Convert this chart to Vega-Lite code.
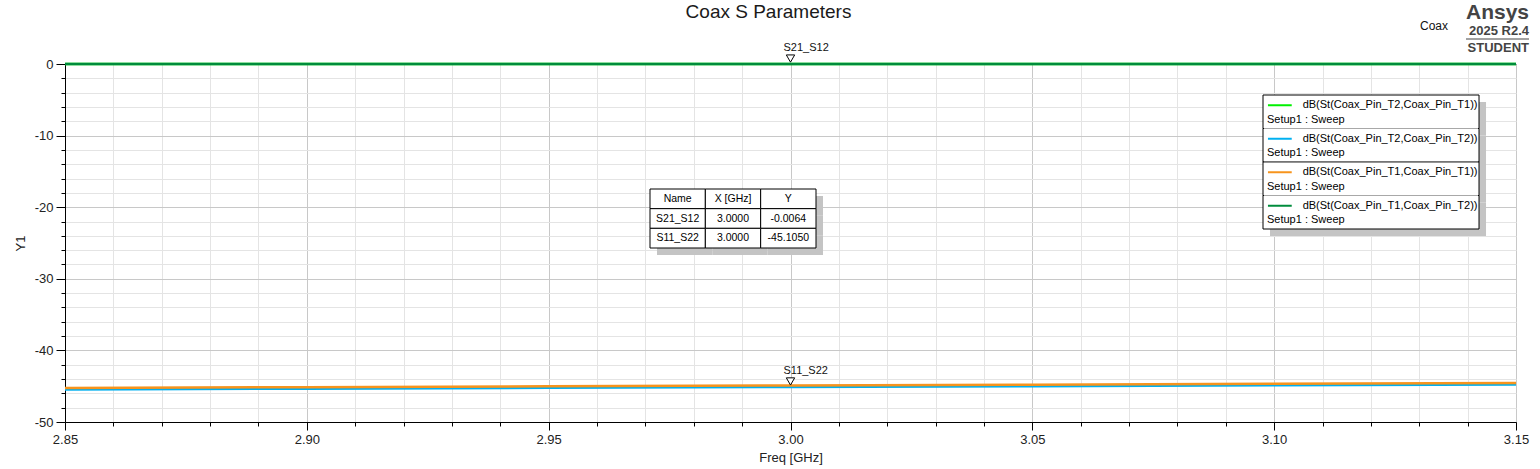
{
  "$schema": "https://vega.github.io/schema/vega-lite/v6.json",
  "width": 1451,
  "height": 358,
  "autosize": "none",
  "padding": {"left": 65, "top": 64, "right": 24, "bottom": 47},
  "background": "white",
  "config": {
    "font": "Liberation Sans",
    "view": {"stroke": "#000", "strokeWidth": 1},
    "axis": {
      "labelFont": "Liberation Sans",
      "labelFontSize": 13,
      "labelColor": "#222",
      "titleFont": "Liberation Sans",
      "titleFontSize": 13,
      "titleFontWeight": "normal",
      "titleColor": "#222",
      "tickColor": "#000",
      "domainColor": "#000",
      "labelFlush": false,
      "labelOverlap": false
    }
  },
  "title": {
    "text": "Coax S Parameters",
    "font": "Liberation Sans",
    "fontSize": 19,
    "fontWeight": "normal",
    "color": "#1a1a1a",
    "anchor": "middle",
    "dx": -22,
    "offset": -20
  },
  "datasets": {
    "traces": [
      {"trace": "dB(St(Coax_Pin_T2,Coax_Pin_T1))", "freq": 2.85, "dB": -0.0061},
      {"trace": "dB(St(Coax_Pin_T2,Coax_Pin_T1))", "freq": 2.9, "dB": -0.0062},
      {"trace": "dB(St(Coax_Pin_T2,Coax_Pin_T1))", "freq": 2.95, "dB": -0.0063},
      {"trace": "dB(St(Coax_Pin_T2,Coax_Pin_T1))", "freq": 3.0, "dB": -0.0064},
      {"trace": "dB(St(Coax_Pin_T2,Coax_Pin_T1))", "freq": 3.05, "dB": -0.0065},
      {"trace": "dB(St(Coax_Pin_T2,Coax_Pin_T1))", "freq": 3.1, "dB": -0.0066},
      {"trace": "dB(St(Coax_Pin_T2,Coax_Pin_T1))", "freq": 3.15, "dB": -0.0067},
      {"trace": "dB(St(Coax_Pin_T2,Coax_Pin_T2))", "freq": 2.85, "dB": -45.45},
      {"trace": "dB(St(Coax_Pin_T2,Coax_Pin_T2))", "freq": 2.9, "dB": -45.34},
      {"trace": "dB(St(Coax_Pin_T2,Coax_Pin_T2))", "freq": 2.95, "dB": -45.22},
      {"trace": "dB(St(Coax_Pin_T2,Coax_Pin_T2))", "freq": 3.0, "dB": -45.105},
      {"trace": "dB(St(Coax_Pin_T2,Coax_Pin_T2))", "freq": 3.05, "dB": -44.99},
      {"trace": "dB(St(Coax_Pin_T2,Coax_Pin_T2))", "freq": 3.1, "dB": -44.88},
      {"trace": "dB(St(Coax_Pin_T2,Coax_Pin_T2))", "freq": 3.15, "dB": -44.76},
      {"trace": "dB(St(Coax_Pin_T1,Coax_Pin_T1))", "freq": 2.85, "dB": -45.24},
      {"trace": "dB(St(Coax_Pin_T1,Coax_Pin_T1))", "freq": 2.9, "dB": -45.13},
      {"trace": "dB(St(Coax_Pin_T1,Coax_Pin_T1))", "freq": 2.95, "dB": -45.01},
      {"trace": "dB(St(Coax_Pin_T1,Coax_Pin_T1))", "freq": 3.0, "dB": -44.9},
      {"trace": "dB(St(Coax_Pin_T1,Coax_Pin_T1))", "freq": 3.05, "dB": -44.79},
      {"trace": "dB(St(Coax_Pin_T1,Coax_Pin_T1))", "freq": 3.1, "dB": -44.67},
      {"trace": "dB(St(Coax_Pin_T1,Coax_Pin_T1))", "freq": 3.15, "dB": -44.56},
      {"trace": "dB(St(Coax_Pin_T1,Coax_Pin_T2))", "freq": 2.85, "dB": -0.0061},
      {"trace": "dB(St(Coax_Pin_T1,Coax_Pin_T2))", "freq": 2.9, "dB": -0.0062},
      {"trace": "dB(St(Coax_Pin_T1,Coax_Pin_T2))", "freq": 2.95, "dB": -0.0063},
      {"trace": "dB(St(Coax_Pin_T1,Coax_Pin_T2))", "freq": 3.0, "dB": -0.0064},
      {"trace": "dB(St(Coax_Pin_T1,Coax_Pin_T2))", "freq": 3.05, "dB": -0.0065},
      {"trace": "dB(St(Coax_Pin_T1,Coax_Pin_T2))", "freq": 3.1, "dB": -0.0066},
      {"trace": "dB(St(Coax_Pin_T1,Coax_Pin_T2))", "freq": 3.15, "dB": -0.0067}
    ],
    "markers": [
      {"name": "S21_S12", "freq": 3.0, "dB": -0.0064},
      {"name": "S11_S22", "freq": 3.0, "dB": -45.105}
    ],
    "table": [
      {"row": 0, "col": "Name", "text": "Name"},
      {"row": 0, "col": "X [GHz]", "text": "X [GHz]"},
      {"row": 0, "col": "Y", "text": "Y"},
      {"row": 1, "col": "Name", "text": "S21_S12"},
      {"row": 1, "col": "X [GHz]", "text": "3.0000"},
      {"row": 1, "col": "Y", "text": "-0.0064"},
      {"row": 2, "col": "Name", "text": "S11_S22"},
      {"row": 2, "col": "X [GHz]", "text": "3.0000"},
      {"row": 2, "col": "Y", "text": "-45.1050"}
    ],
    "legend": [
      {"trace": "dB(St(Coax_Pin_T2,Coax_Pin_T1))", "setup": "Setup1 : Sweep"},
      {"trace": "dB(St(Coax_Pin_T2,Coax_Pin_T2))", "setup": "Setup1 : Sweep"},
      {"trace": "dB(St(Coax_Pin_T1,Coax_Pin_T1))", "setup": "Setup1 : Sweep"},
      {"trace": "dB(St(Coax_Pin_T1,Coax_Pin_T2))", "setup": "Setup1 : Sweep"}
    ],
    "brand": [{"coax": "Coax", "logo": "Ansys", "release": "2025 R2.4", "edition": "STUDENT"}]
  },
  "layer": [
    {
      "resolve": {"axis": {"x": "independent", "y": "independent"}},
      "layer": [
        {
          "data": {"name": "traces"},
          "mark": {"type": "line", "clip": false},
          "encoding": {
            "x": {
              "field": "freq",
              "type": "quantitative",
              "scale": {"domain": [2.85, 3.15], "nice": false, "zero": false},
              "axis": {
                "orient": "bottom",
                "values": [2.86, 2.87, 2.88, 2.89, 2.91, 2.92, 2.93, 2.94, 2.96, 2.97, 2.98, 2.99, 3.01, 3.02, 3.03, 3.04, 3.06, 3.07, 3.08, 3.09, 3.11, 3.12, 3.13, 3.14],
                "labels": false,
                "domain": false,
                "tickSize": 4,
                "grid": true,
                "gridColor": "#e4e4e4",
                "title": null
              }
            },
            "y": {
              "field": "dB",
              "type": "quantitative",
              "scale": {"domain": [-50, 0], "nice": false, "zero": false},
              "axis": {
                "orient": "left",
                "values": [-48, -46, -44, -42, -38, -36, -34, -32, -28, -26, -24, -22, -18, -16, -14, -12, -8, -6, -4, -2],
                "labels": false,
                "domain": false,
                "tickSize": 4,
                "grid": true,
                "gridColor": "#e4e4e4",
                "title": null
              }
            },
            "color": {
              "field": "trace",
              "type": "nominal",
              "scale": {
                "domain": ["dB(St(Coax_Pin_T2,Coax_Pin_T1))", "dB(St(Coax_Pin_T2,Coax_Pin_T2))", "dB(St(Coax_Pin_T1,Coax_Pin_T1))", "dB(St(Coax_Pin_T1,Coax_Pin_T2))"],
                "range": ["#00f000", "#00b0f0", "#f7941d", "#008c3c"]
              },
              "legend": null
            },
            "strokeWidth": {
              "field": "trace",
              "type": "nominal",
              "scale": {
                "domain": ["dB(St(Coax_Pin_T2,Coax_Pin_T1))", "dB(St(Coax_Pin_T2,Coax_Pin_T2))", "dB(St(Coax_Pin_T1,Coax_Pin_T1))", "dB(St(Coax_Pin_T1,Coax_Pin_T2))"],
                "range": [2.5, 2.5, 4, 2.5]
              },
              "legend": null
            }
          }
        },
        {
          "data": {"name": "markers"},
          "mark": {"type": "point", "shape": "triangle-down", "filled": true, "fill": "white", "stroke": "#000", "strokeWidth": 1, "size": 70, "yOffset": -5.5, "opacity": 1},
          "encoding": {
            "x": {
              "field": "freq",
              "type": "quantitative",
              "scale": {"domain": [2.85, 3.15], "nice": false, "zero": false},
              "axis": {
                "orient": "bottom",
                "values": [2.85, 2.9, 2.95, 3.0, 3.05, 3.1, 3.15],
                "format": ".2f",
                "grid": true,
                "gridColor": "#c8c8c8",
                "tickSize": 8,
                "labelPadding": 3,
                "title": "Freq [GHz]",
                "titlePadding": 5
              }
            },
            "y": {
              "field": "dB",
              "type": "quantitative",
              "scale": {"domain": [-50, 0], "nice": false, "zero": false},
              "axis": {
                "orient": "left",
                "values": [-50, -40, -30, -20, -10, 0],
                "labelExpr": "'' + datum.value",
                "grid": true,
                "gridColor": "#c8c8c8",
                "tickSize": 9,
                "labelPadding": 3,
                "title": "Y1",
                "titlePadding": 7
              }
            }
          }
        },
        {
          "data": {"name": "markers"},
          "mark": {"type": "text", "fontSize": 11, "color": "#111", "align": "left", "dx": -7, "dy": -16},
          "encoding": {
            "x": {"field": "freq", "type": "quantitative", "axis": null},
            "y": {"field": "dB", "type": "quantitative", "axis": null},
            "text": {"field": "name"}
          }
        },
        {
          "data": {"name": "brand"},
          "encoding": {
            "x": {"datum": 3.15, "type": "quantitative", "axis": null},
            "y": {"datum": 0, "type": "quantitative", "axis": null}
          },
          "layer": [
            {
              "mark": {"type": "text", "align": "right", "baseline": "middle", "fontSize": 12, "color": "#111", "dx": -68, "dy": -38},
              "encoding": {"text": {"field": "coax"}}
            },
            {
              "mark": {"type": "text", "align": "right", "baseline": "middle", "fontSize": 21, "fontWeight": "bold", "color": "#444", "dx": 13, "dy": -51},
              "encoding": {"text": {"field": "logo"}}
            },
            {
              "mark": {"type": "text", "align": "right", "baseline": "middle", "fontSize": 13, "fontWeight": "bold", "color": "#444", "dx": 13, "dy": -33},
              "encoding": {"text": {"field": "release"}}
            },
            {
              "mark": {"type": "text", "align": "right", "baseline": "middle", "fontSize": 13, "fontWeight": "bold", "color": "#444", "dx": 13, "dy": -16},
              "encoding": {"text": {"field": "edition"}}
            },
            {
              "mark": {"type": "rule", "color": "#444", "strokeWidth": 1, "xOffset": -50, "x2Offset": 13, "yOffset": -25, "y2Offset": -25},
              "encoding": {
                "x2": {"datum": 3.15},
                "y2": {"datum": 0}
              }
            }
          ]
        }
      ]
    },
    {
      "data": {"name": "table"},
      "encoding": {
        "x": {
          "field": "col",
          "type": "nominal",
          "sort": ["Name", "X [GHz]", "Y"],
          "scale": {"type": "band", "range": [585, 751], "paddingInner": 0, "paddingOuter": 0},
          "axis": null
        },
        "y": {
          "field": "row",
          "type": "ordinal",
          "scale": {"type": "band", "range": [125, 184], "paddingInner": 0, "paddingOuter": 0},
          "axis": null
        }
      },
      "layer": [
        {"mark": {"type": "rect", "fill": "#c4c4c4", "xOffset": 7, "yOffset": 7}},
        {"mark": {"type": "rect", "fill": "white", "stroke": "#000", "strokeWidth": 1}},
        {
          "mark": {"type": "text", "fontSize": 10.5, "color": "#000", "align": "center", "baseline": "middle"},
          "encoding": {"text": {"field": "text"}}
        }
      ]
    },
    {
      "data": {"name": "legend"},
      "encoding": {
        "y": {"field": "trace", "type": "nominal", "sort": null, "scale": {"type": "band", "range": [31, 165], "paddingInner": 0, "paddingOuter": 0}, "axis": null}
      },
      "layer": [
        {
          "mark": {"type": "rect", "fill": "#c4c4c4", "xOffset": 7, "x2Offset": 7, "yOffset": 7},
          "encoding": {
            "x": {"datum": 0, "type": "quantitative", "scale": {"domain": [0, 218], "range": [1198, 1416]}, "axis": null},
            "x2": {"datum": 218}
          }
        },
        {
          "mark": {"type": "rect", "fill": "white", "stroke": "#000", "strokeWidth": 1},
          "encoding": {
            "x": {"datum": 0, "type": "quantitative"},
            "x2": {"datum": 218}
          }
        },
        {
          "transform": [{"filter": "datum.trace != 'dB(St(Coax_Pin_T2,Coax_Pin_T1))'"}],
          "mark": {"type": "rule", "color": "#a8a8a8", "strokeWidth": 1, "yOffset": -16.75, "xOffset": 1, "x2Offset": -1},
          "encoding": {
            "x": {"datum": 0, "type": "quantitative"},
            "x2": {"datum": 218}
          }
        },
        {
          "mark": {"type": "rule", "strokeWidth": 2, "yOffset": -6.5},
          "encoding": {
            "x": {"datum": 5, "type": "quantitative"},
            "x2": {"datum": 29},
            "color": {
              "field": "trace",
              "type": "nominal",
              "scale": {
                "domain": ["dB(St(Coax_Pin_T2,Coax_Pin_T1))", "dB(St(Coax_Pin_T2,Coax_Pin_T2))", "dB(St(Coax_Pin_T1,Coax_Pin_T1))", "dB(St(Coax_Pin_T1,Coax_Pin_T2))"],
                "range": ["#00f000", "#00b0f0", "#f7941d", "#008c3c"]
              },
              "legend": null
            }
          }
        },
        {
          "mark": {"type": "text", "align": "left", "baseline": "middle", "fontSize": 11, "color": "#000", "yOffset": -6.5},
          "encoding": {
            "x": {"datum": 40, "type": "quantitative"},
            "text": {"field": "trace"}
          }
        },
        {
          "mark": {"type": "text", "align": "left", "baseline": "middle", "fontSize": 11, "color": "#000", "yOffset": 8},
          "encoding": {
            "x": {"datum": 4, "type": "quantitative"},
            "text": {"field": "setup"}
          }
        }
      ]
    }
  ],
  "resolve": {
    "scale": {"x": "independent", "y": "independent", "color": "independent"},
    "axis": {"x": "independent", "y": "independent"}
  }
}
